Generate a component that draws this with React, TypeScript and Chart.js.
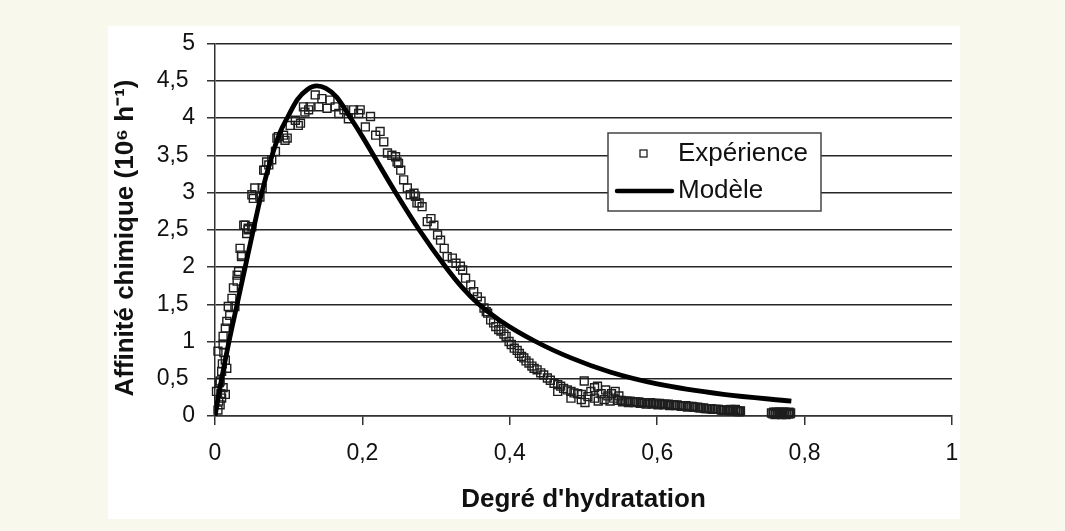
import React, { useEffect, useRef } from 'react';
import { Chart, registerables } from 'chart.js';

Chart.register(...registerables);

const seriesNames = ['Expérience', 'Modèle'];

const expX = [
  0.002, 0.004, 0.004, 0.005, 0.006, 0.007, 0.007, 0.008, 0.009, 0.009,
  0.010, 0.011, 0.011, 0.011, 0.012, 0.014, 0.014, 0.014, 0.016, 0.016,
  0.018, 0.020, 0.023, 0.025, 0.027, 0.030, 0.030, 0.032, 0.034, 0.036,
  0.036, 0.039, 0.041, 0.043, 0.045, 0.045, 0.050, 0.050, 0.052, 0.054,
  0.061, 0.064, 0.066, 0.068, 0.070, 0.073, 0.077, 0.082, 0.084, 0.086,
  0.093, 0.095, 0.098, 0.102, 0.109, 0.113, 0.116, 0.120, 0.122, 0.127,
  0.129, 0.136, 0.141, 0.145, 0.152, 0.156, 0.163, 0.168, 0.175, 0.181,
  0.188, 0.195, 0.197, 0.204, 0.211, 0.218, 0.224, 0.229, 0.234, 0.240,
  0.245, 0.247, 0.249, 0.252, 0.256, 0.261, 0.265, 0.270, 0.272, 0.274,
  0.277, 0.281, 0.288, 0.293, 0.297, 0.302, 0.306, 0.311, 0.315, 0.322,
  0.327, 0.333, 0.336, 0.340, 0.347, 0.351, 0.356, 0.361, 0.365, 0.368,
  0.370, 0.374, 0.378, 0.381, 0.385, 0.388, 0.392, 0.395, 0.399, 0.402,
  0.406, 0.410, 0.413, 0.416, 0.419, 0.422, 0.426, 0.430, 0.433, 0.437,
  0.442, 0.446, 0.451, 0.455, 0.460, 0.465, 0.465, 0.469, 0.473, 0.478,
  0.483, 0.483, 0.487, 0.492, 0.497, 0.497, 0.501, 0.502, 0.506, 0.510,
  0.515, 0.515, 0.519, 0.520, 0.524, 0.528, 0.530, 0.533, 0.536, 0.538,
  0.541, 0.543, 0.546, 0.548,
  0.551, 0.555, 0.559, 0.563, 0.567, 0.571, 0.575, 0.579, 0.583, 0.587,
  0.591, 0.595, 0.599, 0.603, 0.607, 0.611, 0.615, 0.619, 0.623, 0.627,
  0.631, 0.635, 0.639, 0.643, 0.647, 0.651, 0.655, 0.659, 0.663, 0.667,
  0.671, 0.675, 0.679, 0.683, 0.687, 0.691, 0.695, 0.699, 0.700, 0.703,
  0.706, 0.707, 0.710, 0.713,
  0.553, 0.561, 0.569, 0.577, 0.585, 0.593, 0.601, 0.609, 0.617, 0.625,
  0.633, 0.641, 0.649, 0.657, 0.665, 0.673, 0.681, 0.689, 0.697, 0.704,
  0.709, 0.712,
  0.755, 0.757, 0.758, 0.760, 0.761, 0.763, 0.764, 0.766, 0.767, 0.769,
  0.770, 0.770, 0.772, 0.773, 0.775, 0.776, 0.778, 0.779, 0.780, 0.781,
];

const expY = [
  0.33, 0.08, 0.87, 0.20, 0.45, 0.15, 0.47, 0.30, 0.24, 0.60,
  0.70, 0.38, 0.96, 1.07, 0.85, 0.75, 1.18, 0.29, 0.64, 1.27,
  1.47, 1.35, 1.58, 1.72, 1.47, 1.81, 1.89, 1.94, 2.25, 2.16,
  2.14, 2.56, 2.56, 2.45, 2.50, 2.52, 2.54, 2.97, 2.92, 3.06,
  2.94, 3.06, 3.30, 3.30, 3.41, 3.37, 3.44, 3.55, 3.73, 3.75,
  3.77, 3.70, 3.73, 3.90, 3.97, 3.90, 3.93, 4.15, 4.08, 4.11,
  4.15, 4.31, 4.15, 4.26, 4.13, 4.24, 4.15, 4.06, 4.11, 3.99,
  4.11, 4.06, 4.11, 3.88, 4.02, 3.77, 3.82, 3.68, 3.53, 3.50,
  3.48, 3.41, 3.39, 3.30, 3.17, 3.06, 2.97, 2.99, 2.95, 2.86,
  2.86, 2.81, 2.61, 2.65, 2.56, 2.43, 2.36, 2.25, 2.14, 2.12,
  2.05, 2.01, 1.96, 1.85, 1.76, 1.67, 1.60, 1.54, 1.45, 1.40,
  1.38, 1.29, 1.25, 1.20, 1.16, 1.14, 1.10, 1.07, 1.00, 0.96,
  0.91, 0.88, 0.84, 0.80, 0.78, 0.74, 0.71, 0.67, 0.64, 0.62,
  0.58, 0.55, 0.51, 0.48, 0.44, 0.33, 0.42, 0.40, 0.37, 0.35,
  0.24, 0.33, 0.31, 0.30, 0.29, 0.22, 0.47, 0.18, 0.26, 0.33,
  0.24, 0.38, 0.40, 0.20, 0.30, 0.22, 0.35, 0.27, 0.20, 0.30,
  0.24, 0.33, 0.21, 0.27,
  0.21, 0.20, 0.20, 0.20, 0.19, 0.19, 0.19, 0.18, 0.18, 0.18,
  0.18, 0.17, 0.17, 0.17, 0.16, 0.16, 0.16, 0.15, 0.15, 0.15,
  0.14, 0.14, 0.14, 0.13, 0.13, 0.12, 0.12, 0.11, 0.11, 0.10,
  0.10, 0.09, 0.09, 0.09, 0.08, 0.08, 0.08, 0.07, 0.09, 0.07,
  0.09, 0.07, 0.06, 0.07,
  0.19, 0.18, 0.18, 0.17, 0.16, 0.16, 0.15, 0.15, 0.14, 0.14,
  0.13, 0.12, 0.12, 0.11, 0.10, 0.10, 0.09, 0.08, 0.08, 0.08,
  0.07, 0.06,
  0.04, 0.03, 0.05, 0.02, 0.05, 0.03, 0.04, 0.05, 0.03, 0.02,
  0.04, 0.05, 0.03, 0.05, 0.02, 0.04, 0.03, 0.05, 0.03, 0.04,
];

const modelX = [
  0, 0.009, 0.019, 0.030, 0.041, 0.052, 0.063, 0.076, 0.088, 0.098,
  0.112, 0.125, 0.138, 0.150, 0.165, 0.184, 0.200, 0.215, 0.245, 0.277,
  0.313, 0.335, 0.358, 0.387, 0.435, 0.483, 0.536, 0.600, 0.690, 0.782,
];
const modelY = [
  0, 0.5, 1.0, 1.5, 2.0, 2.5, 2.98, 3.45, 3.8, 4.0,
  4.25, 4.38, 4.43, 4.40, 4.28, 4.0, 3.75, 3.5, 3.0, 2.5,
  2.0, 1.73, 1.5, 1.28, 1.0, 0.78, 0.59, 0.43, 0.29, 0.20,
];

const xTickLabels = ['0', '0,2', '0,4', '0,6', '0,8', '1'];
const yTickLabels = ['0', '0,5 ', '1', '1,5 ', '2', '2,5 ', '3', '3,5 ', '4', '4,5 ', '5'];
const xTitle = "Degré d'hydratation";
const yTitle = 'Affinité chimique (10⁶ h⁻¹)  \u200A';

const FONT = '"Liberation Sans", Arial, Helvetica, sans-serif';

const boxLegend = {
  id: 'boxLegend',
  afterDraw(chart: any) {
    const { ctx, chartArea } = chart;
    const x0 = chartArea.left + 393;
    const y0 = chartArea.top + 89.5;
    const w = 213;
    const h = 78;
    ctx.save();
    ctx.fillStyle = '#ffffff';
    ctx.fillRect(x0, y0, w, h);
    ctx.strokeStyle = '#444444';
    ctx.lineWidth = 1.5;
    ctx.strokeRect(x0, y0, w, h);
    ctx.strokeStyle = '#222222';
    ctx.lineWidth = 1.3;
    ctx.strokeRect(x0 + 32, y0 + 17, 7, 7);
    ctx.strokeStyle = '#000000';
    ctx.lineWidth = 4.5;
    ctx.lineCap = 'round';
    ctx.beginPath();
    ctx.moveTo(x0 + 9, y0 + 58);
    ctx.lineTo(x0 + 64, y0 + 58);
    ctx.stroke();
    ctx.fillStyle = '#111111';
    ctx.font = '26px ' + FONT;
    ctx.textBaseline = 'middle';
    ctx.textAlign = 'left';
    ctx.fillText(seriesNames[0], x0 + 70, y0 + 21);
    ctx.fillText(seriesNames[1], x0 + 70, y0 + 58);
    ctx.restore();
  },
};

export default function App() {
  const ref = useRef<HTMLCanvasElement | null>(null);

  useEffect(() => {
    if (!ref.current) return;
    const expData = expX.map((x, i) => ({ x, y: expY[i] }));
    const modelData = modelX.map((x, i) => ({ x, y: modelY[i] }));
    const chart = new Chart(ref.current, {
      type: 'scatter',
      data: {
        datasets: [
          {
            type: 'line',
            label: seriesNames[1],
            data: modelData,
            borderColor: '#000000',
            borderWidth: 4.8,
            pointRadius: 0,
            fill: false,
            cubicInterpolationMode: 'monotone',
            order: 0,
          } as any,
          {
            type: 'scatter',
            label: seriesNames[0],
            data: expData,
            pointStyle: 'rect',
            pointRadius: 5.6,
            borderWidth: 1.4,
            borderColor: '#1e1e1e',
            backgroundColor: 'rgba(0,0,0,0)',
            order: 1,
            clip: 6,
          } as any,
        ],
      },
      options: {
        responsive: false,
        animation: false,
        events: [],
        layout: { padding: { left: 0, top: 17.5, right: 8, bottom: 0 } },
        plugins: {
          legend: { display: false },
          tooltip: { enabled: false },
        },
        scales: {
          x: {
            type: 'linear',
            min: 0,
            max: 1,
            afterFit: (scale: any) => {
              scale.height = 103;
              scale.paddingLeft = 0;
              scale.paddingRight = 0;
            },
            ticks: {
              stepSize: 0.2,
              padding: 15,
              color: '#111111',
              font: { family: FONT, size: 23 },
              callback: (_v: any, i: number) => xTickLabels[i],
            },
            grid: {
              drawOnChartArea: false,
              drawTicks: true,
              tickLength: 9,
              tickColor: '#333333',
              lineWidth: 1.5,
            },
            border: { display: true, color: '#333333', width: 1.5 },
            title: {
              display: true,
              text: xTitle,
              color: '#111111',
              font: { family: FONT, size: 26, weight: 'bold' },
              padding: { top: 0, bottom: 3.4 },
            },
          },
          y: {
            type: 'linear',
            min: 0,
            max: 5,
            afterFit: (scale: any) => {
              scale.width = 107;
              scale.paddingTop = 0;
              scale.paddingBottom = 0;
            },
            ticks: {
              stepSize: 0.5,
              padding: 12,
              color: '#111111',
              font: { family: FONT, size: 23 },
              callback: (_v: any, i: number) => yTickLabels[i],
            },
            grid: {
              drawOnChartArea: true,
              drawTicks: true,
              tickLength: 8,
              color: '#262626',
              tickColor: '#333333',
              lineWidth: 1.5,
            },
            border: { display: true, color: '#333333', width: 1.5 },
            title: {
              display: true,
              text: yTitle,
              color: '#111111',
              font: { family: FONT, size: 26, weight: 'bold' },
              padding: { top: 2.4, bottom: 0 },
            },
          },
        },
      },
      plugins: [boxLegend],
    });
    return () => chart.destroy();
  }, []);

  return (
    <div
      style={{
        position: 'fixed',
        left: 0,
        top: 0,
        width: 1065,
        height: 531,
        background: '#f8f8ec',
      }}
    >
      <div
        style={{
          position: 'absolute',
          left: 108,
          top: 26,
          width: 852,
          height: 493,
          background: '#ffffff',
        }}
      >
        <canvas
          ref={ref}
          width={852}
          height={493}
          style={{ display: 'block', width: 852, height: 493 }}
        />
      </div>
    </div>
  );
}
